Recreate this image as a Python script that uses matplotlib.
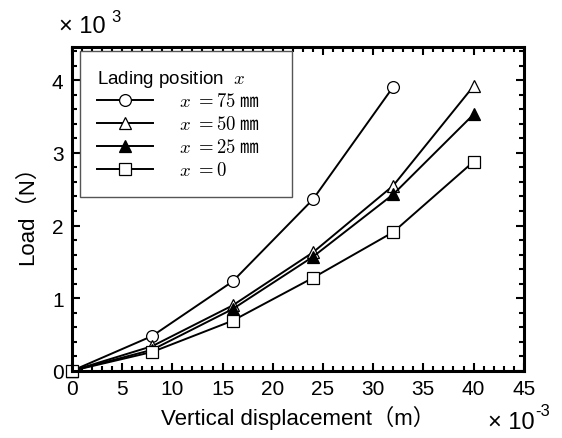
import numpy as np
import matplotlib
matplotlib.use('Agg')
from matplotlib import pyplot as plt

plt.rcParams['font.family'] = ['Liberation Sans', 'Noto Sans CJK JP', 'DejaVu Sans']
plt.rcParams['mathtext.fontset'] = 'cm'

# displacement (x10^-3 m)
disp = [0, 8, 16, 24, 32, 40]
disp_75 = [0, 8, 16, 24, 32]
# load (x10^3 N)
load_75 = [0, 0.48, 1.23, 2.36, 3.91]
load_50 = [0, 0.34, 0.90, 1.63, 2.55, 3.92]
load_25 = [0, 0.29, 0.85, 1.57, 2.43, 3.53]
load_0 = [0, 0.26, 0.69, 1.28, 1.91, 2.88]

labels = [r'$x\ =75$ ㎜', r'$x\ =50$ ㎜', r'$x\ =25$ ㎜', r'$x\ =0$']

fig = plt.figure(figsize=(5.62, 4.39), dpi=100)
ax = fig.add_axes([0.128, 0.153, 0.804, 0.738])

style = dict(color='black', linewidth=1.4, markersize=8.5, markeredgewidth=0.9,
             markeredgecolor='black', clip_on=False)
ax.plot(disp_75, load_75, marker='o', markerfacecolor='white', label=labels[0], **style)
ax.plot(disp, load_50, marker='^', markerfacecolor='white', label=labels[1], **style)
ax.plot(disp, load_25, marker='^', markerfacecolor='black', label=labels[2], **style)
ax.plot(disp, load_0, marker='s', markerfacecolor='white', label=labels[3], **style)

ax.set_xlim(0, 45)
ax.set_ylim(0, 4.46)
ax.set_xticks(np.arange(0, 46, 5))
ax.set_xticks(np.arange(0, 46, 1), minor=True)
ax.set_yticks([0, 1, 2, 3, 4])
ax.set_yticks(np.arange(0, 4.46, 0.2), minor=True)
ax.tick_params(which='both', direction='in', top=True, right=True, labelsize=15,
               width=1.5, pad=6)
ax.tick_params(which='major', length=6)
ax.tick_params(which='minor', length=3.5)
for s in ax.spines.values():
    s.set_linewidth(2.2)

ax.set_xlabel('Vertical displacement（m）', fontsize=16, labelpad=5)
ax.set_ylabel('Load（N）', fontsize=16, labelpad=10)

# exponent labels
fig.text(0.105, 0.925, '× 10', fontsize=17, ha='left', va='baseline')
fig.text(0.198, 0.95, '3', fontsize=12, ha='left', va='baseline')
fig.text(0.868, 0.012, '× 10', fontsize=17, ha='left', va='bottom')
fig.text(0.952, 0.045, '-3', fontsize=12, ha='left', va='bottom')

leg = ax.legend(loc='upper left', bbox_to_anchor=(0.018, 0.3, 0.469, 0.688),
                mode='expand', fontsize=13.5,
                title=r'Lading position  $x$', title_fontsize=13.5, fancybox=False,
                edgecolor='#555555', framealpha=1, handlelength=3.0,
                borderpad=0.9, labelspacing=0.1, handletextpad=1.4,
                borderaxespad=0.0)
leg.get_frame().set_linewidth(1.0)
leg._legend_box.align = 'left'
for t in leg.get_texts():
    t.set_fontfamily(['Noto Sans CJK JP'])

fig.savefig('out.png', dpi=100)
